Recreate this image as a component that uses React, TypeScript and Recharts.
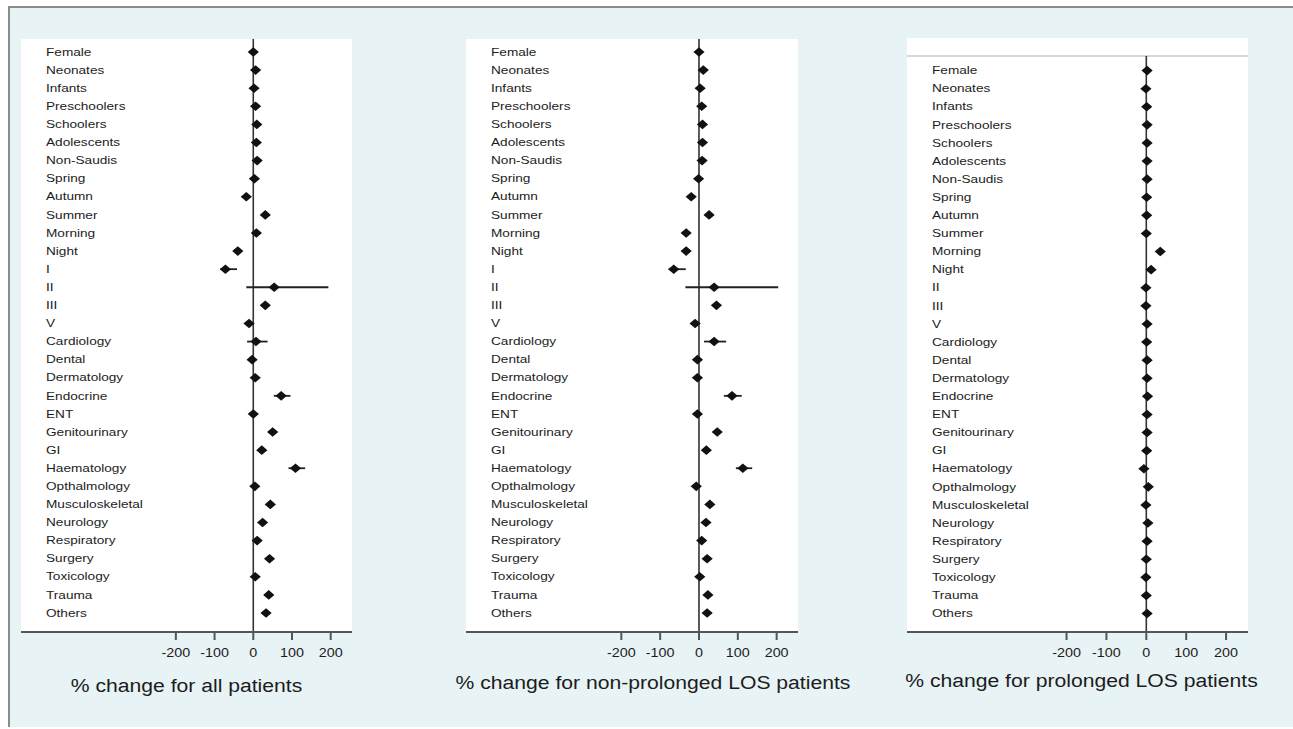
import React from "react";
import {
  ScatterChart,
  Scatter,
  XAxis,
  YAxis,
  CartesianGrid,
  ReferenceLine,
  ErrorBar,
} from "recharts";

// row labels (the prolonged-LOS panel has no "I" row)
const labelsAll = [
  "Female", "Neonates", "Infants", "Preschoolers", "Schoolers", "Adolescents",
  "Non-Saudis", "Spring", "Autumn", "Summer", "Morning", "Night", "I", "II",
  "III", "V", "Cardiology", "Dental", "Dermatology", "Endocrine", "ENT",
  "Genitourinary", "GI", "Haematology", "Opthalmology", "Musculoskeletal",
  "Neurology", "Respiratory", "Surgery", "Toxicology", "Trauma", "Others",
];
const labelsProlonged = [
  "Female", "Neonates", "Infants", "Preschoolers", "Schoolers", "Adolescents",
  "Non-Saudis", "Spring", "Autumn", "Summer", "Morning", "Night", "II",
  "III", "V", "Cardiology", "Dental", "Dermatology", "Endocrine", "ENT",
  "Genitourinary", "GI", "Haematology", "Opthalmology", "Musculoskeletal",
  "Neurology", "Respiratory", "Surgery", "Toxicology", "Trauma", "Others",
];

// % change estimates
const allPatients = [
  0, 6, 2, 6, 9, 8, 10, 3, -18, 31, 8, -40, -72, 54, 31, -11, 7, -3, 5, 72, 0,
  50, 22, 109, 4, 44, 24, 10, 42, 5, 40, 33,
];
const nonProlonged = [
  0, 11, 3, 7, 9, 9, 8, -1, -20, 26, -33, -33, -65, 39, 45, -10, 39, -4, -4,
  85, -4, 47, 19, 113, -7, 28, 18, 7, 21, 2, 23, 21,
];
const prolonged = [
  2, -1, 1, 2, 2, 2, 2, 1, 1, 0, 35, 12, -1, -1, 2, 1, 2, 2, 3, 2, 2, 1, -6,
  5, -1, 4, 2, 0, -1, 0, 2,
];

// confidence intervals wide enough to show past the marker
const ciRows = ["I", "II", "Cardiology", "Endocrine", "Haematology"];
const allLow = [-85, -18, -16, 53, 91];
const allHigh = [-42, 194, 37, 96, 134];
const nonLow = [-78, -35, 13, 64, 95];
const nonHigh = [-34, 204, 70, 110, 137];

const xTicks = [-200, -100, 0, 100, 200];

const FONT = "'Liberation Sans', Arial, Helvetica, sans-serif";
const STRETCH = 1.175;
const TEXT = "#1c1c1c";
const PAD_L = 30;
const PAD_R = 70;

function buildRows(names: string[], vals: number[], first: number, lo?: number[], hi?: number[]) {
  return names.map((name, i) => {
    const v = vals[i];
    const k = ciRows.indexOf(name);
    const err = lo && hi && k >= 0 ? [v - lo[k], hi[k] - v] : [0, 0];
    return { name, pos: i + first, value: v, err };
  });
}

const Diamond = (p: any) => {
  const { cx, cy } = p;
  if (cx == null || cy == null) return null;
  return (
    <polygon
      points={`${cx - 5.6},${cy} ${cx},${cy - 4.8} ${cx + 5.6},${cy} ${cx},${cy + 4.8}`}
      fill="#111"
    />
  );
};

function ValueTick({ x, y, payload }: any) {
  return (
    <g transform={`translate(${x},${y}) scale(${STRETCH},1)`}>
      <text x={0} y={0} dy="0.71em" textAnchor="middle" fontSize={12.2} fill={TEXT} fontFamily={FONT}>
        {payload.value}
      </text>
    </g>
  );
}

interface PanelProps {
  names: string[];
  vals: number[];
  first: number;
  lo?: number[];
  hi?: number[];
  left: number;
  top: number;
  width: number;
  yDomain: [number, number];
  title: string;
  titleDx: number;
  titleDy: number;
  header?: number;
}

function Panel(props: PanelProps) {
  const { names, vals, first, lo, hi, left, top, width, yDomain, title, titleDx, titleDy, header } = props;
  const rows = buildRows(names, vals, first, lo, hi);
  const nameAt = new Map(rows.map((r) => [r.pos, r.name]));
  const plotH = 632 - top;
  const axisH = 80;

  const RowLabel = ({ x, y, payload }: any) => (
    <g transform={`translate(${x},${y}) scale(${STRETCH},1)`}>
      <text x={0} y={0} dominantBaseline="central" textAnchor="start" fontSize={11.6} fill={TEXT} fontFamily={FONT}>
        {nameAt.get(payload.value)}
      </text>
    </g>
  );

  const Title = (p: any) => {
    const vb = p.viewBox || { x: 0, y: 0, width: 0 };
    return (
      <g transform={`translate(${vb.x + vb.width / 2 + titleDx},${vb.y + titleDy}) scale(${STRETCH},1)`}>
        <text x={0} y={0} dominantBaseline="central" textAnchor="middle" fontSize={18} fill={TEXT} fontFamily={FONT}>
          {title}
        </text>
      </g>
    );
  };

  return (
    <div style={{ position: "absolute", left: left - PAD_L, top }}>
      <ScatterChart
        width={width + PAD_L + PAD_R}
        height={plotH + axisH}
        margin={{ top: 0, right: PAD_R, bottom: 0, left: PAD_L }}
      >
        <CartesianGrid fill="#ffffff" horizontal={false} vertical={false} stroke="none" />
        <XAxis
          type="number"
          dataKey="value"
          domain={[-600, 255]}
          allowDataOverflow
          ticks={xTicks}
          interval={0}
          height={axisH}
          axisLine={{ stroke: "#555", strokeWidth: 2 }}
          tickLine={{ stroke: "#555", strokeWidth: 2 }}
          tickSize={8}
          tickMargin={8}
          tick={<ValueTick />}
          label={Title}
        />
        <YAxis
          type="number"
          dataKey="pos"
          domain={yDomain}
          allowDataOverflow
          reversed
          mirror
          width={1}
          ticks={rows.map((r) => r.pos)}
          interval={0}
          axisLine={false}
          tickLine={false}
          tickSize={0}
          tickMargin={25}
          tick={RowLabel}
        />
        {header != null && <ReferenceLine y={header} stroke="#c8c8c8" strokeWidth={1.5} />}
        <ReferenceLine
          segment={[
            { x: 0, y: header != null ? header : yDomain[0] },
            { x: 0, y: yDomain[1] },
          ]}
          stroke="#333"
          strokeWidth={1.6}
        />
        <Scatter data={rows} shape={Diamond} isAnimationActive={false}>
          <ErrorBar dataKey="err" direction="x" width={0} stroke="#222" strokeWidth={1.8} />
        </Scatter>
      </ScatterChart>
    </div>
  );
}

export default function App() {
  return (
    <div style={{ position: "absolute", left: 0, top: 0, width: 1293, height: 729, background: "#fff", overflow: "hidden" }}>
      <div
        style={{
          position: "absolute",
          left: 8,
          top: 6,
          width: 1285,
          height: 721,
          boxSizing: "border-box",
          background: "#e8f3f5",
          borderTop: "2px solid #8c8c8c",
          borderLeft: "2px solid #8c8c8c",
        }}
      />
      <Panel
        names={labelsAll}
        vals={allPatients}
        first={0}
        lo={allLow}
        hi={allHigh}
        left={21}
        top={39}
        width={331}
        yDomain={[-0.72, 32.05]}
        title="% change for all patients"
        titleDx={0}
        titleDy={54}
      />
      <Panel
        names={labelsAll}
        vals={nonProlonged}
        first={0}
        lo={nonLow}
        hi={nonHigh}
        left={466}
        top={39}
        width={332}
        yDomain={[-0.72, 32.05]}
        title="% change for non-prolonged LOS patients"
        titleDx={21}
        titleDy={51}
      />
      <Panel
        names={labelsProlonged}
        vals={prolonged}
        first={1}
        left={907}
        top={38}
        width={341}
        yDomain={[-0.8, 32.02]}
        title="% change for prolonged LOS patients"
        titleDx={4}
        titleDy={49}
        header={0.19}
      />
    </div>
  );
}
